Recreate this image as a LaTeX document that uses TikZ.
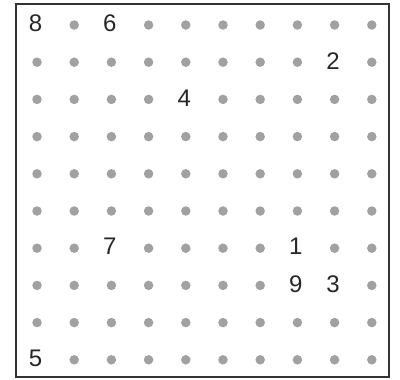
\documentclass[tikz,border=0pt]{standalone}
\usepackage{fontspec}
\setmainfont{Liberation Sans}
\begin{document}
\begin{tikzpicture}[x=1pt,y=-1pt,
  dot/.style={circle,fill=black!37,inner sep=0pt,minimum size=9.5pt},
  num/.style={inner sep=0pt,font=\fontsize{24}{24}\selectfont,text=black!85},
  frame/.style={draw=black!80,line width=2pt}]
\useasboundingbox (0,0) rectangle (400,380);
\draw[frame] (16,4) rectangle (389,377);
% numbers: col,row,label
\def\numlist{0/0/8,2/0/6,8/1/2,4/2/4,2/6/7,7/6/1,7/7/9,8/7/3,0/9/5}
\foreach \i in {0,...,9}{
  \foreach \j in {0,...,9}{
    \def\isnum{0}
    \foreach \a/\b/\l in \numlist{
      \ifnum\a=\i \ifnum\b=\j \global\def\isnum{1}\fi\fi
    }
    \ifnum\isnum=0
      \node[dot] (d-\i-\j) at ({37+37.2*\i},{25+37.2*\j}) {};
    \fi
  }
}
\foreach \a/\b/\l in \numlist{
  \node[num] (n\l) at ({35.5+37.2*\a},{23.5+37.2*\b}) {\l};
}
\end{tikzpicture}
\end{document}
